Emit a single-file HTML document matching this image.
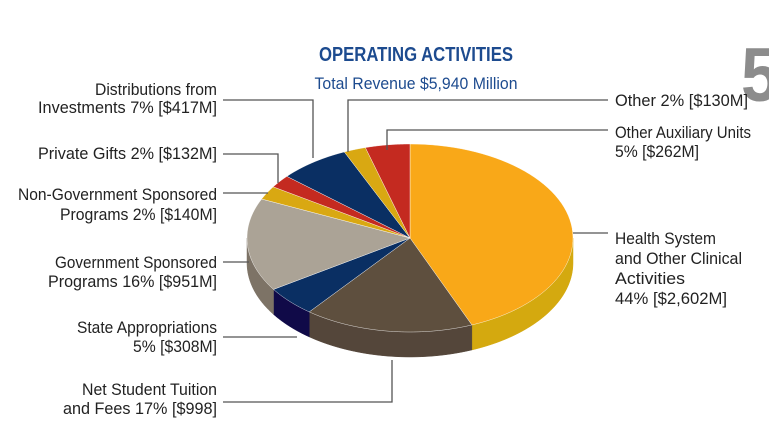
<!DOCTYPE html>
<html><head><meta charset="utf-8"><style>
html,body{margin:0;padding:0;background:#fff;}
svg{display:block;}
text{font-family:"Liberation Sans Narrow","Liberation Sans",sans-serif;}
</style></head><body>
<svg id="chart" width="769" height="440" viewBox="0 0 769 440">
<text x="741" y="101" font-size="76" font-weight="bold" fill="#8c8c8c" font-family="Liberation Sans" textLength="38" lengthAdjust="spacingAndGlyphs">5</text>
<text x="416" y="61" text-anchor="middle" font-size="20" font-weight="bold" fill="#1d4b8f" textLength="194" lengthAdjust="spacingAndGlyphs">OPERATING ACTIVITIES</text>
<text x="416" y="89" text-anchor="middle" font-size="17" fill="#1d4b8f" textLength="203" lengthAdjust="spacingAndGlyphs">Total Revenue $5,940 Million</text>
<g id="pie"></g>
<g id="leaders" stroke="#555" stroke-width="1.3" fill="none">
<polyline points="223,100 313,100 313,158"/>
<polyline points="608,100 348,100 348,152"/>
<polyline points="608,130 387,130 387,150"/>
<polyline points="223,154 278,154 278,183"/>
<polyline points="223,193 268,193"/>
<polyline points="223,262 249,262"/>
<polyline points="223,337 297,337"/>
<polyline points="223,402 392,402 392,360"/>
<polyline points="573,233 608,233"/>
</g>
<g id="labels" font-size="17" fill="#222"></g>
</svg>
<script>
const categories = ["Health System and Other Clinical Activities","Net Student Tuition and Fees","State Appropriations","Government Sponsored Programs","Non-Government Sponsored Programs","Private Gifts","Distributions from Investments","Other","Other Auxiliary Units"];
const values = [2602, 998, 308, 951, 140, 132, 417, 130, 262];
const topColors = ["#F9A818","#5E4F3E","#0A2F63","#ABA396","#D9A812","#C42A20","#0A2F63","#D9A812","#C42A20"];
const sideColors = ["#D4A90F","#54463A","#100A48","#7D7366","#B08A0E","#9A2018","#081F45","#B08A0E","#9A2018"];
const labelLines = [
 [["Distributions from",217,95],["Investments 7% [$417M]",217,113]],
 [["Private Gifts 2% [$132M]",217,159]],
 [["Non-Government Sponsored",217,200],["Programs 2% [$140M]",217,220]],
 [["Government Sponsored",217,268],["Programs 16% [$951M]",217,287]],
 [["State Appropriations",217,333],["5% [$308M]",217,352]],
 [["Net Student Tuition",217,395],["and Fees 17% [$998]",217,414]],
 [["Other 2% [$130M]",615,106,"s"]],
 [["Other Auxiliary Units",615,138,"s"],["5% [$262M]",615,157,"s"]],
 [["Health System",615,244,"s"],["and Other Clinical",615,264,"s"],["Activities",615,284,"s"],["44% [$2,602M]",615,304,"s"]]
];
const widths = {"Distributions from":122,"Investments 7% [$417M]":179,"Private Gifts 2% [$132M]":179,"Non-Government Sponsored":199,"Programs 2% [$140M]":157,"Government Sponsored":162,"Programs 16% [$951M]":169,"State Appropriations":140,"5% [$308M]":84,"Net Student Tuition":135,"and Fees 17% [$998]":154,"Other 2% [$130M]":133,"Other Auxiliary Units":136,"5% [$262M]":84,"Health System":101,"and Other Clinical":127,"Activities":70,"44% [$2,602M]":112};
const NS="http://www.w3.org/2000/svg";
const cx=410, cy=238, rx=163, ry=94, depth=25;
const total = values.reduce((a,b)=>a+b,0);
function pt(t,dy){return [cx+rx*Math.sin(t), cy-ry*Math.cos(t)+(dy||0)];}
const pie=document.getElementById('pie');
let a=0; const angles=[];
values.forEach(v=>{const a2=a+v/total*2*Math.PI; angles.push([a,a2]); a=a2;});
angles.forEach(([a1,a2],i)=>{
  const s=Math.max(a1,Math.PI/2), e=Math.min(a2,1.5*Math.PI);
  if(e<=s) return;
  let d=''; const N=40;
  for(let k=0;k<=N;k++){const p=pt(s+(e-s)*k/N); d+=(k?'L':'M')+p[0].toFixed(2)+','+p[1].toFixed(2);}
  for(let k=N;k>=0;k--){const p=pt(s+(e-s)*k/N,depth); d+='L'+p[0].toFixed(2)+','+p[1].toFixed(2);}
  const path=document.createElementNS(NS,'path');
  path.setAttribute('d',d+'Z'); path.setAttribute('fill',sideColors[i]);
  path.setAttribute('stroke',sideColors[i]); path.setAttribute('stroke-width','0.5');
  
  
  pie.appendChild(path);
});
angles.forEach(([a1,a2],i)=>{
  let d='M'+cx+','+cy; const N=60;
  for(let k=0;k<=N;k++){const p=pt(a1+(a2-a1)*k/N); d+='L'+p[0].toFixed(2)+','+p[1].toFixed(2);}
  const path=document.createElementNS(NS,'path');
  path.setAttribute('d',d+'Z'); path.setAttribute('fill',topColors[i]);
  path.setAttribute('stroke','#ffffff'); path.setAttribute('stroke-width','0.4');
  
  
  pie.appendChild(path);
});
const lg=document.getElementById('labels');
labelLines.forEach(lines=>lines.forEach(([txt,x,y,al])=>{
  const t=document.createElementNS(NS,'text');
  t.setAttribute('x',x); t.setAttribute('y',y);
  t.setAttribute('text-anchor',al==='s'?'start':'end');
  t.setAttribute('textLength',widths[txt]); t.setAttribute('lengthAdjust','spacingAndGlyphs');
  t.textContent=txt;
  
  
  lg.appendChild(t);
}));
</script>
</body></html>
